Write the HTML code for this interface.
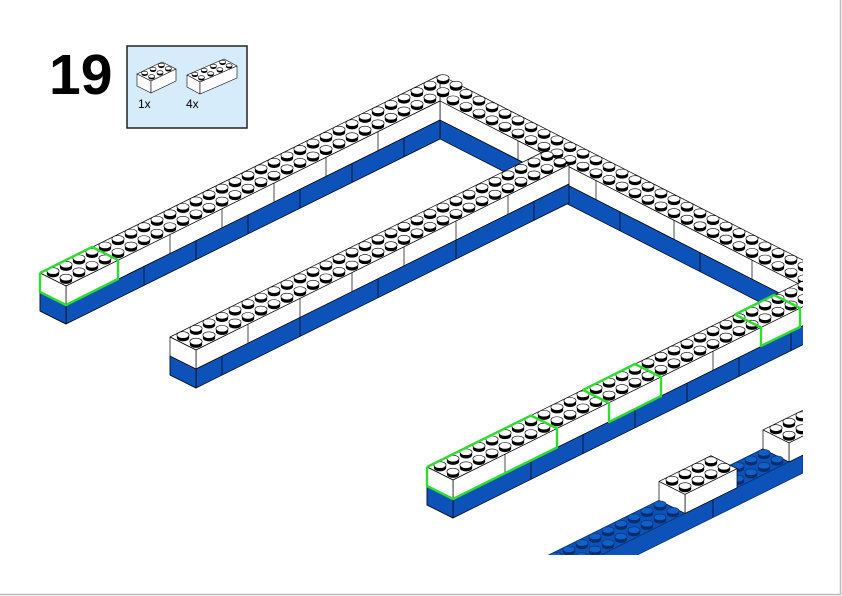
<!DOCTYPE html>
<html><head><meta charset="utf-8"><style>
html,body{margin:0;padding:0;background:#fff;width:842px;height:596px;overflow:hidden}
svg{display:block}
</style></head><body>
<svg id="s" width="842" height="596" xmlns="http://www.w3.org/2000/svg">
<rect x="0" y="0" width="842" height="596" fill="#fff"/>
<line x1="840.5" y1="0" x2="840.5" y2="595" stroke="#bbb" stroke-width="1.5"/>
<line x1="0" y1="594.5" x2="841" y2="594.5" stroke="#bbb" stroke-width="1.5"/>
<text x="49" y="94" font-family="Liberation Sans, sans-serif" font-weight="bold" font-size="57">19</text>
<rect x="127" y="46" width="120" height="82" fill="#d7ecfb" stroke="#222" stroke-width="1.5"/>
<text x="138" y="108" font-family="Liberation Sans, sans-serif" font-size="12">1x</text>
<text x="186" y="108" font-family="Liberation Sans, sans-serif" font-size="12">4x</text>
<defs><clipPath id="cp"><rect x="0" y="0" width="803" height="555"/></clipPath></defs>
<g id="icons"></g>
<g id="d" clip-path="url(#cp)"></g>
</svg>
<script>
var out='';
function P(pts,fill,sw,st){return '<polygon points="'+pts.map(function(p){return p[0].toFixed(1)+','+p[1].toFixed(1)}).join(' ')+'" fill="'+fill+'" stroke="'+(st||'#000')+'" stroke-width="'+(sw||0.7)+'" stroke-linejoin="round"/>';}
var BL='#0c52b8';
function stud(x,y,blue,s){s=s||1;var rx=6.1*s,ry=3.3*s,h=3*s;var top=blue?'#1160c8':'#fff',side=blue?'#072f6e':'#000';
 return '<ellipse cx="'+x+'" cy="'+(y)+'" rx="'+rx+'" ry="'+ry+'" fill="'+side+'"/><rect x="'+(x-rx)+'" y="'+(y-h)+'" width="'+(2*rx)+'" height="'+h+'" fill="'+side+'"/><ellipse cx="'+x+'" cy="'+(y-h)+'" rx="'+rx+'" ry="'+ry+'" fill="'+top+'" stroke="'+side+'" stroke-width="0.6"/>';}
function add(a,b){return [a[0]+b[0],a[1]+b[1]];}
function mul(a,k){return [a[0]*k,a[1]*k];}
var aL=[13,-6.435], cL=[13,6.5], aR=[13,6.63], cR=[-13,6.4];
function studsLb(o,i0,i1,blue){var s='';for(var i=i1;i>=i0;i--){for(var j=0;j<2;j++){var p=add(add(o,mul(aL,i+0.5)),mul(cL,j+0.5));s+=stud(p[0],p[1]+1,blue);}}return s;}
function faceL(x1,y1,x2,y2,hw,hb){
 var s=P([[x1,y1],[x2,y2],[x2,y2+hw],[x1,y1+hw]],'#fff');
 if(hb) s+=P([[x1,y1+hw],[x2,y2+hw],[x2,y2+hw+hb],[x1,y1+hw+hb]],BL);
 return s;}
function vl(x,y1,y2){return '<line x1="'+x+'" y1="'+y1+'" x2="'+x+'" y2="'+y2+'" stroke="#000" stroke-width="0.7"/>';}
var H=19;
out+=P([[440,75],[840,279],[840,305],[440,101]],'#fff');
out+=faceL(440,101,840,305,H,H);
for(var k=2;k<=30;k++){for(var j=0;j<2;j++){var p=add(add([440,75],mul(aR,k+0.5)),mul(cR,j+0.5));out+=stud(p[0],p[1]+1,false);}}
[518,596,674,752].forEach(function(x){var y=101+(x-440)*0.51;out+=vl(x,y,y+H);});
[550,620,700,790].forEach(function(x){var y=101+(x-440)*0.51;out+=vl(x,y+H,y+2*H);});
out+=P([[40,273],[440,75],[440,101],[66,286]],'#fff');
out+=faceL(66,286,440,101,H,H);
out+=P([[40,273],[66,286],[66,324],[40,311]],'#fff');
out+=P([[40,292],[66,305],[66,324],[40,311]],BL);
out+=studsLb([40,273],0,30,false);
[118,170,222,274,326,378].forEach(function(x){var y=286-(x-66)*0.495;out+=vl(x,y,y+H);});
[144,196,248,300,352,404].forEach(function(x){var y=286-(x-66)*0.495;out+=vl(x,y+H,y+2*H);});
out+=P([[170,337],[543,152],[569,165],[196,350]],'#fff');
out+=faceL(196,350,569,165,H,H);
out+=P([[170,337],[196,350],[196,388],[170,375]],'#fff');
out+=P([[170,356],[196,369],[196,388],[170,375]],BL);
out+=studsLb([170,337],0,28,false);
[248,300,352,404,456,508].forEach(function(x){var y=350-(x-196)*0.495;out+=vl(x,y,y+H);});
[222,300,378,456,534].forEach(function(x){var y=350-(x-196)*0.495;out+=vl(x,y+H,y+2*H);});
var cyU=function(x){return 467-(x-427)*0.495;}, cyF=function(x){return 480-(x-453)*0.495;};
out+=P([[427,467],[840,cyU(840)],[840,cyF(840)],[453,480]],'#fff');
out+=faceL(453,480,840,cyF(840),H,H);
out+=P([[427,467],[453,480],[453,518],[427,505]],'#fff');
out+=P([[427,486],[453,499],[453,518],[427,505]],BL);
out+=studsLb([427,467],0,30,false);
[505,557,609,661,713,761].forEach(function(x){var y=cyF(x);out+=vl(x,y,y+H);});
[531,583,635,687,739,791].forEach(function(x){var y=cyF(x);out+=vl(x,y+H,y+2*H);});
var dF=function(x){return 455+(803-x)*0.495;}, dB=function(x){return 429+(803-x)*0.495;};
out+=P([[803,dB(803)],[803,dF(803)],[500,dF(500)],[474,dB(474)]],BL,0.7,'#05306e');
out+=P([[803,dF(803)],[803,dF(803)+18],[500,dF(500)+18],[500,dF(500)]],BL,0.7,'#05306e');
out+=vl(713,dF(713),dF(713)+18);
function brick(lx,n){
 var fb=[lx,dF(lx)], fr=[lx+13*n,dF(lx+13*n)];
 var ft=[fb[0],fb[1]-H], frt=[fr[0],fr[1]-H];
 var bl=[ft[0]-26,ft[1]-13], br=[frt[0]-26,frt[1]-13];
 var s=P([bl,br,frt,ft],'#fff');
 s+=P([ft,frt,fr,fb],'#fff');
 s+=P([bl,ft,fb,[bl[0],bl[1]+H]],'#fff');
 for(var i=n-1;i>=0;i--)for(var j=0;j<2;j++){var p=add(add(bl,mul(aL,i+0.5)),mul(cL,j+0.5));s+=stud(p[0],p[1]+1,false);}
 return s;}
function bstuds(i0,i1){var s='';for(var i=i0;i<=i1;i++)for(var j=0;j<2;j++){var p=add(add([803,429],mul([-13,6.435],i+0.5)),mul(cL,j+0.5));s+=stud(p[0],p[1]+1,true);}return s;}
out+=brick(789,4);
out+=bstuds(3,6);
out+=brick(685,4);
out+=bstuds(11,22);
var G='#2fdc2f';
function gpl(pts){return '<polyline points="'+pts.map(function(p){return p[0]+','+p[1]}).join(' ')+'" fill="none" stroke="'+G+'" stroke-width="2.4" stroke-linejoin="round"/>';}
out+=gpl([[40,273],[92,247],[118,260],[118,279],[66,305],[40,292],[40,273]]);
out+=gpl([[427,467],[531,415.5],[557,428.5],[557,447.5],[453,499],[427,486],[427,467]]);
out+=gpl([[583,390],[609,403],[609,422],[661,396],[661,377],[635,364],[583,390]]);
out+=gpl([[735,314.5],[761,327.5],[761,346],[800,327],[800,308],[774,295],[735,314.5]]);
document.getElementById('d').innerHTML=out;
function icon(L,B,R,F,h,n){var s=P([L,B,R,F],'#fff',0.6);s+=P([L,F,[F[0],F[1]+h],[L[0],L[1]+h]],'#fff',0.6);s+=P([F,R,[R[0],R[1]+h],[F[0],F[1]+h]],'#fff',0.6);
 var a=[(B[0]-L[0])/n,(B[1]-L[1])/n], c=[(F[0]-L[0])/2,(F[1]-L[1])/2];
 for(var i=n-1;i>=0;i--)for(var j=0;j<2;j++){var p=add(add(L,mul(a,i+0.5)),mul(c,j+0.5));s+=stud(p[0],p[1]+0.6,false,0.5);}
 return s;}
document.getElementById('icons').innerHTML=icon([137,74],[162,62],[176,69],[151,81],12,3)+icon([187,75],[224,59],[237,66],[200,82],12,4);
</script>
</body></html>
